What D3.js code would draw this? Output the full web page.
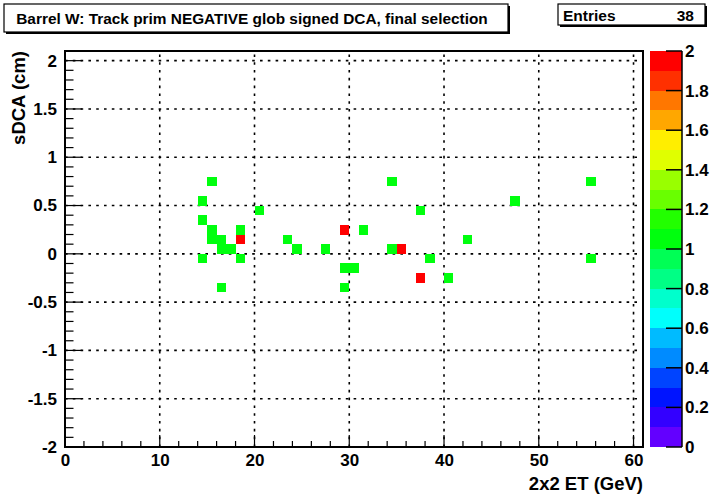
<!DOCTYPE html>
<html>
<head>
<meta charset="utf-8">
<script src="https://cdn.jsdelivr.net/npm/d3@7"></script>
<style>
html,body{margin:0;padding:0;background:#fff;}
svg{display:block;}
text{font-family:"Liberation Sans",Arial,Helvetica,sans-serif;font-weight:bold;fill:#000;}
</style>
</head>
<body>
<svg id="c" width="711" height="497"></svg>
<script>
// ---- data (bin centres, contents) ----
const cellX = [15.5,14.5,14.5,15.5,15.5,16.5,16.5,17.5,18.5,14.5,18.5,16.5,20.5,23.5,24.5,27.5,31.5,29.5,30.5,29.5,34.5,55.5,47.5,37.5,42.5,34.5,38.5,55.5,40.5,18.5,29.5,35.5,37.5];
const cellY = [0.75,0.55,0.35,0.25,0.15,0.15,0.05,0.05,0.25,-0.05,-0.05,-0.35,0.45,0.15,0.05,0.05,0.25,-0.15,-0.15,-0.35,0.75,0.75,0.55,0.45,0.15,0.05,-0.05,-0.05,-0.25,0.15,0.25,0.05,-0.25];
const cellZ = [1,1,1,1,1,1,1,1,1,1,1,1,1,1,1,1,1,1,1,1,1,1,1,1,1,1,1,1,1,2,2,2,2];
const xTicks = [0,10,20,30,40,50,60];
const yTicks = [-2,-1.5,-1,-0.5,0,0.5,1,1.5,2];
const zTicks = [0,0.2,0.4,0.6,0.8,1,1.2,1.4,1.6,1.8,2];
const titleText = "Barrel W: Track prim NEGATIVE glob signed DCA, final selection";
const entries = 38;
const xTitle = "2x2 ET (GeV)";
const yTitle = "sDCA (cm)";

// ---- layout ----
const L = 65, R = 643, T = 51, B = 447;
const binW = 1, binH = 0.1;
const svg = d3.select("#c");
const x = d3.scaleLinear().domain([0, 61]).range([L, R]);
const y = d3.scaleLinear().domain([-2, 2.1]).range([B, T]);
const z = d3.scaleLinear().domain([0, 2]).range([B, T]);
const nLev = 20, zMin = 0, zMax = 2;

// ROOT pretty palette (50 colours, violet->red), 20 contour levels
function levelColor(k) {
  const idx = Math.floor((k + 0.99) * 50 / nLev);
  const hue = 280 - (idx + 1) * (280 / 50);
  return d3.hsl(hue, 1, 0.5).formatHex();
}
function valueColor(v) {
  let k = Math.floor((v - zMin) / (zMax - zMin) * nLev);
  if (k >= nLev) k = nLev - 1;
  if (k < 0) k = 0;
  return levelColor(k);
}

// ---- grid ----
const grid = svg.append("g").attr("stroke", "#000").attr("stroke-width", 1.6).attr("stroke-dasharray", "2.6,5.2");
grid.selectAll("line.gx").data(xTicks.filter(d => d > 0)).enter().append("line")
  .attr("x1", d => x(d)).attr("x2", d => x(d)).attr("y1", B).attr("y2", T);
grid.selectAll("line.gy").data(yTicks.filter(d => d > -2)).enter().append("line")
  .attr("y1", d => y(d)).attr("y2", d => y(d)).attr("x1", L).attr("x2", R);

// ---- cells ----
const cells = cellX.map((cx, i) => ({x: cx, y: cellY[i], z: cellZ[i]}));
svg.append("g").selectAll("rect").data(cells).enter().append("rect")
  .attr("x", d => x(d.x - binW / 2))
  .attr("width", d => x(d.x + binW / 2) - x(d.x - binW / 2))
  .attr("y", d => y(d.y + binH / 2))
  .attr("height", d => y(d.y - binH / 2) - y(d.y + binH / 2))
  .attr("fill", d => valueColor(d.z))
  .attr("shape-rendering", "crispEdges");

// ---- axes ----
const gx = svg.append("g");
gx.selectAll("line").data(d3.range(0, 61, 2)).enter().append("line")
  .attr("x1", d => x(d)).attr("x2", d => x(d))
  .attr("y1", B).attr("y2", d => B - (d % 10 === 0 ? 12 : 6))
  .attr("stroke", "#000").attr("stroke-width", 1.2);
const xa = svg.append("g").attr("transform", `translate(0,${B})`)
  .call(d3.axisBottom(x).tickValues(xTicks).tickSize(0).tickFormat(d3.format("d")));
xa.select(".domain").remove();
xa.selectAll("text").attr("font-size", 17).attr("dy", "0.71em").attr("y", 7);

const gy = svg.append("g");
gy.selectAll("line").data(d3.range(-20, 22, 1).map(d => d / 10)).enter().append("line")
  .attr("y1", d => y(d)).attr("y2", d => y(d))
  .attr("x1", L).attr("x2", d => L + (Math.abs(Math.round(d * 10)) % 5 === 0 ? 17 : 8.5))
  .attr("stroke", "#000").attr("stroke-width", 1.2);
const ya = svg.append("g").attr("transform", `translate(${L},0)`)
  .call(d3.axisLeft(y).tickValues(yTicks).tickSize(0).tickPadding(8).tickFormat(d => d3.format("")(d).replace("−", "-")));
ya.select(".domain").remove();
ya.selectAll("text").attr("font-size", 17);

// ---- frame ----
svg.append("rect").attr("x", L).attr("y", T).attr("width", R - L).attr("height", B - T)
  .attr("fill", "none").attr("stroke", "#000").attr("stroke-width", 2);

// ---- axis titles ----
svg.append("text").attr("x", R).attr("y", 490).attr("text-anchor", "end").attr("font-size", 18.5).text(xTitle);
svg.append("text").attr("transform", `translate(25,${T}) rotate(-90)`).attr("text-anchor", "end").attr("font-size", 18.5).text(yTitle);

// ---- colour bar ----
const CL = 650, CR = 682;
const levels = d3.range(nLev);
svg.append("g").selectAll("rect").data(levels).enter().append("rect")
  .attr("x", CL).attr("width", CR - CL)
  .attr("y", k => z(zMin + (k + 1) * (zMax - zMin) / nLev))
  .attr("height", k => z(zMin + k * (zMax - zMin) / nLev) - z(zMin + (k + 1) * (zMax - zMin) / nLev))
  .attr("fill", k => levelColor(k)).attr("shape-rendering", "crispEdges");
const za = svg.append("g").attr("transform", `translate(${CR},0)`)
  .call(d3.axisRight(z).tickValues(zTicks).tickSize(0).tickPadding(3).tickFormat(d3.format("")));
za.select(".domain").remove();
za.selectAll("text").attr("font-size", 17);
svg.append("g").selectAll("line").data(zTicks).enter().append("line")
  .attr("x1", CR).attr("x2", CR - 16).attr("y1", d => z(d)).attr("y2", d => z(d))
  .attr("stroke", "#000").attr("stroke-width", 1.5);
svg.append("line").attr("x1", CR).attr("x2", CR).attr("y1", T).attr("y2", B).attr("stroke", "#000").attr("stroke-width", 1.5);

// ---- title box ----
svg.append("rect").attr("x", 6).attr("y", 6).attr("width", 504).attr("height", 28).attr("fill", "#000");
svg.append("rect").attr("x", 4).attr("y", 4).attr("width", 504).attr("height", 28).attr("fill", "#fff").attr("stroke", "#000").attr("stroke-width", 1.2);
svg.append("text").attr("x", 252).attr("y", 24).attr("text-anchor", "middle").attr("font-size", 15.4).text(titleText);

// ---- stats box ----
svg.append("rect").attr("x", 560).attr("y", 6).attr("width", 147).attr("height", 21).attr("fill", "#000");
svg.append("rect").attr("x", 558).attr("y", 4).attr("width", 147).attr("height", 21).attr("fill", "#fff").attr("stroke", "#000").attr("stroke-width", 1.2);
svg.append("text").attr("x", 563).attr("y", 20.5).attr("font-size", 15.5).text("Entries");
svg.append("text").attr("x", 694).attr("y", 20.5).attr("text-anchor", "end").attr("font-size", 15.5).text(entries);
</script>
</body>
</html>
